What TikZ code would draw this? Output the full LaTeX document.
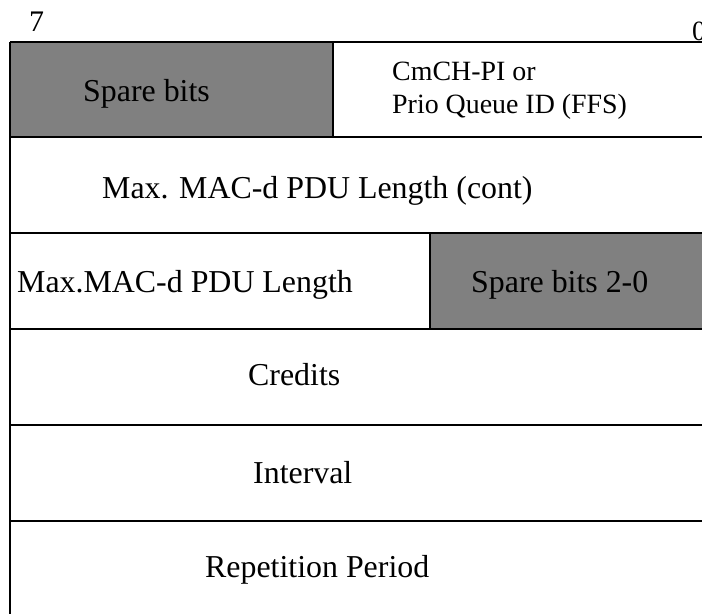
\documentclass[tikz,border=0pt]{standalone}
\usepackage{fontspec}
\setmainfont{Liberation Serif}
\definecolor{spare}{HTML}{808080}
\tikzset{
  field/.style={inner sep=0pt, anchor=base west, font=\fontsize{32}{38}\selectfont},
  small/.style={field, font=\fontsize{28}{33}\selectfont},
  rule/.style={line width=1.6bp},
  heavy/.style={line width=2.6bp}
}

\begin{document}
\begin{tikzpicture}[x=1bp, y=-1bp]
    \useasboundingbox (0,0) rectangle (702,614);

    % shaded spare fields
    \fill[spare] (10,42) rectangle (333,137);
    \fill[spare] (430,233) rectangle (702,329);

    % frame and rows
    \draw[heavy] (10,42) -- (702,42);
    \draw[heavy] (10,137) -- (702,137);
    \draw[rule] (10,233) -- (702,233);
    \draw[rule] (10,329) -- (702,329);
    \draw[rule] (10,425) -- (702,425);
    \draw[rule] (10,521) -- (702,521);
    \draw[rule] (10,42) -- (10,614);
    \draw[rule] (333,42) -- (333,137);
    \draw[rule] (430,233) -- (430,329);

    % bit numbers
    \node at (29,32) (msb) [field, font=\fontsize{30}{36}\selectfont] {7};
    \node at (692,41) (lsb) [small] {0};

    % field labels
    \node at (83,102) (spare) [field] {Spare bits};
    \node at (392,81) (cmch) [small] {CmCH-PI or};
    \node at (392,114) (prio) [small] {Prio Queue ID (FFS)};
    \node at (102,199) (maxcont) [field] {Max. MAC-d PDU Length (cont)};
    \node at (17,292) (maxlen) [field] {Max.MAC-d PDU Length};
    \node at (471,292) (spare20) [field] {Spare bits 2-0};
    \node at (248,385) (credits) [field] {Credits};
    \node at (253,483) (interval) [field] {Interval};
    \node at (205,577) (period) [field] {Repetition Period};

  \end{tikzpicture}
\end{document}
